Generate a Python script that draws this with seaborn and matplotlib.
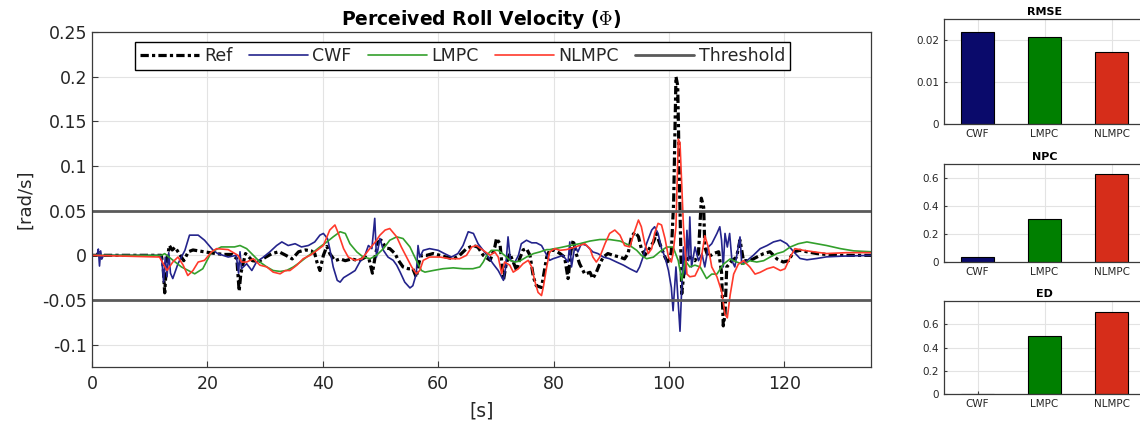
import matplotlib
matplotlib.use("Agg")
import matplotlib.pyplot as plt
import numpy as np
import pandas as pd
import seaborn as sns

# ---------------- data ----------------
ref_t = [0, 0.8, 1.2, 1.6, 2.0, 12.0, 12.3, 12.6, 12.9, 13.4, 13.9, 14.4, 15.1, 15.9, 16.7, 17.5,
         18.4, 19.4, 20.4, 21.4, 22.9, 24.3, 25.1, 25.5, 25.8, 26.6, 27.8, 28.9, 30.1, 31.2, 32.4,
         33.6, 34.7, 35.8, 37.0, 38.0, 38.6, 39.0, 39.5, 40.1, 40.7, 41.2, 42.1, 43.0, 43.9, 45.0,
         46.2, 47.4, 48.0, 48.6, 49.1, 49.6, 50.1, 51.0, 51.6, 52.5, 53.1, 53.9, 54.8, 55.6, 56.2,
         56.7, 57.1, 58.0, 59.1, 60.3, 61.4, 62.6, 63.7, 64.9, 66.1, 66.9, 67.8, 69.0, 69.8, 70.1,
         70.7, 71.3, 71.8, 72.4, 73.0, 73.6, 74.1, 74.7, 75.3, 75.9, 76.5, 77.0, 77.9, 78.2, 78.8,
         79.3, 80.2, 81.1, 81.9, 82.5, 83.0, 83.4, 83.9, 84.5, 85.4, 86.3, 86.8, 87.4, 88.0, 88.6,
         89.4, 90.3, 91.5, 92.3, 92.9, 93.5, 94.1, 94.7, 95.2, 95.8, 96.4, 97.3, 97.8, 98.4, 99.3,
         99.9, 100.4, 100.8, 101.2, 101.5, 101.9, 102.2, 102.8, 103.6, 104.5, 105.1, 105.6, 106.0,
         106.2, 106.8, 107.7, 108.6, 109.1, 109.4, 109.7, 110.0, 110.9, 111.7, 112.3, 112.9, 114.0,
         115.2, 116.4, 117.5, 118.7, 119.8, 120.7, 121.6, 122.7, 123.9, 125.6, 127.3, 129.7, 132.5, 135.0]
ref_v = [0, 0.0, 0.003, -0.003, 0.0, 0.0, -0.01, -0.042, -0.01, 0.011, 0.006, 0.009, 0.002, -0.006,
         0.004, 0.006, 0.005, 0.004, 0.003, 0.002, 0.001, 0.001, -0.004, -0.040, -0.02, 0.002, -0.006,
         -0.007, -0.002, 0.002, 0.004, 0.0, -0.004, 0.004, 0.006, 0.005, 0.002, -0.008, -0.017, 0.0,
         0.010, 0.002, -0.006, -0.004, -0.006, -0.004, -0.006, -0.002, -0.004, -0.020, 0.0, 0.015,
         0.017, 0.008, 0.0075, 0.002, -0.0056, -0.013, -0.015, -0.015, -0.0245, -0.0075, 0.0, 0.0,
         0.002, 0.0, -0.002, -0.004, 0.0, 0.0075, 0.011, 0.009, 0.0, -0.0056, 0.009, 0.019, 0.013,
         -0.028, -0.009, 0.002, -0.0075, -0.017, -0.004, 0.006, 0.0075, 0.0, -0.0245, -0.034, -0.036,
         -0.0245, -0.002, 0.0056, 0.0056, 0.002, -0.002, -0.026, 0.005, 0.017, 0.002, -0.0094, -0.021,
         -0.019, -0.026, -0.019, -0.0094, -0.002, 0.002, 0.0, -0.002, -0.004, 0.002, 0.021, 0.026,
         0.021, 0.0075, 0.0, 0.0056, 0.015, 0.0245, 0.013, -0.002, -0.0094, 0.0038, 0.06, 0.2, 0.19,
         0.05, -0.043, -0.006, -0.002, -0.006, 0.002, 0.064, 0.054, 0.009, -0.002, 0.002, 0.004,
         -0.019, -0.079, -0.066, -0.013, -0.006, -0.002, 0.017, -0.006, -0.006, -0.002, 0.002, 0.004,
         -0.004, -0.0075, -0.006, 0.004, 0.0056, 0.004, 0.002, 0.001, 0.0, 0.0, 0.0]

cwf_t = [0, 0.9, 1.1, 1.3, 1.5, 1.7, 2.0, 11.8, 12.1, 12.4, 12.7, 13.0, 13.3, 13.6, 14.0, 14.9,
         16.1, 16.9, 18.4, 19.5, 21.0, 21.8, 23.6, 25.0, 25.4, 25.65, 25.9, 26.8, 27.7, 28.5, 29.7,
         30.8, 32.0, 32.9, 34.0, 35.2, 36.3, 37.5, 38.6, 39.5, 40.1, 40.8, 41.2, 41.8, 42.5, 43.0,
         43.6, 44.7, 45.6, 46.4, 47.3, 47.9, 48.5, 49.0, 49.3, 49.9, 50.5, 51.3, 52.2, 52.8, 53.4,
         54.2, 55.1, 55.6, 56.2, 56.5, 56.8, 57.4, 58.5, 60.0, 61.1, 62.3, 63.4, 64.3, 65.2, 66.1,
         66.9, 67.8, 68.7, 69.5, 70.4, 71.3, 71.7, 72.1, 72.5, 73.3, 73.9, 74.4, 75.3, 76.2, 77.0,
         77.9, 78.5, 79.3, 79.9, 80.8, 81.6, 82.5, 82.8, 83.1, 83.7, 84.2, 84.8, 85.7, 86.8, 87.7,
         88.6, 89.7, 90.9, 92.1, 93.2, 94.4, 94.9, 95.5, 96.1, 97.0, 97.5, 98.1, 98.7, 99.3, 99.9,
         100.4, 100.7, 101.2, 101.5, 101.9, 102.2, 102.5, 102.8, 103.1, 103.4, 103.6, 103.9, 104.5,
         105.1, 105.7, 106.2, 106.8, 107.4, 108.3, 108.8, 109.1, 109.4, 109.7, 110.1, 110.5, 110.9,
         111.4, 112.3, 112.6, 113.5, 114.6, 115.8, 117.0, 118.1, 119.3, 120.4, 121.6, 122.7, 123.9,
         125.6, 127.3, 129.7, 135.0]
cwf_v = [0, 0.0, 0.007, -0.012, 0.005, -0.004, 0.0, 0.0, -0.004, -0.03, -0.002, -0.024, 0.003,
         -0.02, -0.026, -0.0094, 0.0056, 0.0226, 0.0226, 0.0169, 0.0056, 0.0019, -0.0019, 0.0,
         -0.02, 0.004, -0.015, -0.0094, -0.017, -0.0075, -0.002, 0.0038, 0.011, 0.015, 0.011, 0.013,
         0.0094, 0.011, 0.015, 0.0226, 0.0245, 0.0188, 0.0075, -0.013, -0.028, -0.030, -0.025,
         -0.0207, -0.017, -0.0075, 0.0, 0.011, 0.0075, 0.0414, -0.002, 0.0188, 0.0056, -0.002,
         -0.0056, -0.011, -0.0188, -0.030, -0.0365, -0.034, -0.0207, 0.011, -0.002, 0.0056, 0.0075,
         0.0056, 0.0019, -0.0019, 0.0019, 0.011, 0.0264, 0.0245, 0.013, 0.0056, -0.0019, -0.0094,
         -0.017, -0.028, -0.013, 0.0207, -0.0056, -0.0075, 0.0, 0.013, 0.0169, 0.014, 0.014, 0.011,
         0.0038, -0.0056, -0.0038, -0.0019, 0.0, -0.0075, 0.015, -0.013, 0.011, 0.0038, 0.013, 0.011,
         0.0038, 0.0019, -0.0019, -0.0038, -0.0075, -0.011, -0.015, -0.0188, -0.013, -0.0019, 0.013,
         0.0283, 0.032, 0.0245, 0.0075, -0.0019, -0.017, -0.036, -0.062, -0.013, -0.044, -0.085,
         -0.036, 0.0093, -0.021, 0.028, -0.006, 0.043, -0.013, 0.0093, -0.006, 0.002, -0.013, 0.0093,
         0.013, 0.0245, 0.032, 0.017, -0.013, 0.0245, 0.0093, 0.0245, -0.006, -0.013, 0.0206, -0.010,
         -0.006, 0.0, 0.0075, 0.011, 0.015, 0.017, 0.013, 0.004, -0.0035, -0.005, -0.0035, -0.0017,
         -0.001, 0.0]

lmpc_t = [0, 12.0, 12.6, 13.7, 15.5, 17.8, 19.2, 20.7, 22.4, 24.7, 25.65, 26.8, 27.96, 29.1, 30.3,
          31.4, 32.6, 33.7, 34.9, 36.1, 37.2, 38.4, 39.5, 40.7, 41.8, 43.0, 43.9, 44.7, 45.9, 47.0,
          48.2, 49.3, 50.5, 51.6, 52.8, 53.9, 55.1, 56.2, 57.1, 57.7, 59.1, 60.8, 62.6, 64.3, 66.0,
          67.2, 67.8, 68.4, 69.2, 70.4, 71.5, 72.4, 73.3, 74.1, 75.3, 76.5, 77.6, 78.8, 79.3, 81.1,
          82.8, 84.5, 86.3, 88.0, 89.7, 91.5, 93.2, 94.4, 95.2, 96.1, 97.3, 98.4, 99.6, 100.7, 101.6,
          102.2, 102.8, 103.6, 104.5, 105.4, 106.5, 107.4, 108.3, 109.4, 110.6, 111.7, 112.9, 114.0,
          115.2, 116.4, 117.5, 118.7, 119.8, 121.0, 122.4, 123.9, 125.6, 127.3, 129.7, 132.0, 135.0]
lmpc_v = [0, 0.0, 0.0019, -0.0038, -0.013, -0.0207, -0.015, 0.0038, 0.0094, 0.0094, 0.011, 0.0075,
          0.0, -0.0075, -0.013, -0.017, -0.018, -0.017, -0.013, -0.0075, -0.0019, 0.0038, 0.0094,
          0.015, 0.0207, 0.0264, 0.0245, 0.013, 0.0038, -0.0019, -0.0038, 0.0, 0.0075, 0.0169, 0.0207,
          0.0188, 0.0094, -0.0056, -0.017, -0.0188, -0.017, -0.015, -0.014, -0.015, -0.015, -0.013,
          -0.0075, 0.0, 0.0056, 0.0056, 0.0, -0.0056, -0.0075, -0.0065, -0.0019, 0.0019, 0.0038,
          0.0064, 0.0064, 0.0086, 0.011, 0.013, 0.016, 0.0177, 0.0177, 0.016, 0.011, 0.0056, 0.0,
          -0.0038, -0.002, 0.004, 0.0093, 0.0093, -0.006, -0.028, -0.006, -0.013, -0.011, -0.013,
          -0.026, -0.021, -0.021, -0.010, -0.004, -0.0075, -0.010, -0.006, -0.0075, -0.006, -0.002,
          0.002, 0.004, 0.0093, 0.013, 0.015, 0.013, 0.011, 0.0075, 0.005, 0.004]

nlmpc_t = [0, 11.7, 13.0, 14.0, 14.9, 15.8, 16.6, 17.5, 18.4, 19.5, 20.7, 21.6, 23.6, 25.3, 25.9,
           26.8, 27.96, 29.1, 30.3, 31.4, 32.6, 33.5, 34.3, 35.5, 36.6, 37.8, 39.0, 40.1, 41.2, 42.1,
           42.7, 43.6, 44.4, 45.6, 46.8, 47.9, 49.1, 49.9, 50.8, 51.6, 52.8, 53.6, 54.5, 55.4, 56.2,
           56.8, 57.4, 58.5, 60.3, 62.0, 63.7, 64.9, 65.8, 66.6, 67.8, 69.0, 69.8, 70.4, 71.0, 71.5,
           72.4, 73.0, 73.9, 74.7, 75.6, 76.2, 76.7, 77.3, 77.9, 78.2, 78.8, 79.3, 80.2, 81.1, 82.2,
           83.4, 84.5, 85.4, 86.3, 86.8, 87.4, 88.0, 88.9, 89.7, 90.6, 91.5, 92.3, 93.2, 94.1, 94.7,
           95.2, 95.8, 96.4, 97.0, 97.5, 98.1, 98.7, 99.3, 99.9, 100.4, 100.7, 101.2, 101.6, 101.9,
           102.5, 103.1, 103.6, 104.5, 105.4, 106.2, 106.8, 107.4, 108.3, 109.1, 109.7, 110.1, 110.6,
           111.2, 112.0, 112.9, 114.0, 114.9, 115.8, 117.0, 118.1, 119.3, 120.1, 121.0, 121.8, 123.3,
           125.0, 127.3, 130.8, 135.0]
nlmpc_v = [0, -0.0019, -0.017, -0.0075, -0.0019, -0.011, -0.0226, -0.017, -0.0075, -0.0056, 0.0038,
           0.0075, 0.0064, 0.0, -0.0075, -0.0075, -0.0038, -0.011, -0.013, -0.0188, -0.0207, -0.017,
           -0.017, -0.011, -0.0038, 0.0, 0.0056, 0.011, 0.0283, 0.034, 0.0245, 0.0075, -0.0019,
           -0.0056, -0.0038, 0.0056, 0.015, 0.0226, 0.0283, 0.030, 0.0207, 0.0094, -0.0019, -0.013,
           -0.0207, -0.017, -0.0056, -0.0019, -0.0019, -0.0038, -0.0038, 0.0, 0.0094, 0.011, 0.0056,
           0.0, 0.0038, -0.0019, -0.0207, -0.0075, -0.011, -0.0188, -0.015, -0.0094, -0.0056, -0.013,
           -0.028, -0.0415, -0.045, -0.036, -0.013, 0.0038, 0.0075, 0.0056, 0.0064, 0.0086, 0.011,
           0.013, 0.0075, -0.0019, -0.0075, -0.0019, 0.013, 0.0245, 0.0283, 0.0226, 0.011, 0.0094,
           0.0283, 0.0395, 0.032, 0.013, 0.0019, 0.0075, 0.0245, 0.0358, 0.034, 0.0188, -0.0019,
           -0.0075, 0.002, 0.032, 0.130, 0.126, 0.032, -0.021, -0.024, -0.023, -0.011, 0.022, 0.0093,
           -0.013, -0.024, -0.040, -0.066, -0.070, -0.044, -0.021, -0.010, -0.006, -0.013, -0.021,
           -0.019, -0.015, -0.013, -0.017, -0.015, -0.002, 0.0075, 0.0056, 0.004, 0.002, 0.003, 0.003]

threshold = 0.05

methods = ["CWF", "LMPC", "NLMPC"]
rmse = [0.0218, 0.0207, 0.0171]
npc = [0.036, 0.307, 0.626]
ed = [0.0, 0.50, 0.703]

x_ticks = [0, 20, 40, 60, 80, 100, 120]
x_tick_labels = ["0", "20", "40", "60", "80", "100", "120"]
y_ticks = [-0.1, -0.05, 0, 0.05, 0.1, 0.15, 0.2, 0.25]
y_tick_labels = ["-0.1", "-0.05", "0", "0.05", "0.1", "0.15", "0.2", "0.25"]
rmse_ticks = [0, 0.01, 0.02]
rmse_tick_labels = ["0", "0.01", "0.02"]
npc_ticks = [0, 0.2, 0.4, 0.6]
npc_tick_labels = ["0", "0.2", "0.4", "0.6"]
ed_ticks = [0, 0.2, 0.4, 0.6]
ed_tick_labels = ["0", "0.2", "0.4", "0.6"]

# ---------------- style ----------------
sns.set_theme(style="white")
plt.rcParams["font.family"] = ["DejaVu Sans"]
plt.rcParams["mathtext.fontset"] = "cm"

W, H = 1140, 426
fig = plt.figure(figsize=(W / 100, H / 100), dpi=100)
fig.patch.set_facecolor("white")

TXT = "#262626"
FRAME = "#3a3a3a"
GRID = "#e3e3e3"


def box(ax, ls=10):
    for s in ax.spines.values():
        s.set_visible(True)
        s.set_color(FRAME)
        s.set_linewidth(0.9)
    ax.tick_params(direction="in", length=4, width=0.8, colors=FRAME, labelcolor=TXT,
                   labelsize=ls, top=False, right=False, left=True, bottom=True)
    ax.grid(True, color=GRID, linewidth=0.8)
    ax.set_axisbelow(True)


# ---------------- main axes ----------------
ax = fig.add_axes([92 / W, (H - 367) / H, 779 / W, 335 / H])

series = [
    ("Ref", ref_t, ref_v, "black", 2.3),
    ("CWF", cwf_t, cwf_v, "#24248c", 1.2),
    ("LMPC", lmpc_t, lmpc_v, "#33a02c", 1.2),
    ("NLMPC", nlmpc_t, nlmpc_v, "#ff3a2c", 1.2),
]
for name, tt, vv, col, lw in series:
    df = pd.DataFrame({"t": tt, "v": vv})
    sns.lineplot(data=df, x="t", y="v", ax=ax, color=col, linewidth=lw, sort=False,
                 estimator=None, legend=False)
    ln = ax.lines[-1]
    ln.set_label(name)
    if name == "Ref":
        ln.set_dashes((2.6, 1.0, 1.0, 1.0))

ax.axhline(threshold, color="#5a5a5a", linewidth=2.0, label="Threshold")
ax.axhline(-threshold, color="#5a5a5a", linewidth=2.0)

ax.set_xlim(0, 135)
ax.set_ylim(-0.125, 0.25)
ax.set_xticks(x_ticks)
ax.set_xticklabels(x_tick_labels)
ax.set_yticks(y_ticks)
ax.set_yticklabels(y_tick_labels)
box(ax, ls=12.5)
ax.tick_params(axis="x", pad=6)
ax.set_xlabel("[s]", fontsize=13.5, color=TXT, labelpad=6)
ax.set_ylabel("[rad/s]", fontsize=13, color=TXT, labelpad=6)
ax.set_title(r"Perceived Roll Velocity ($\Phi$)", fontsize=13.5, fontweight="bold",
             color="black", pad=5)

leg = ax.legend(loc="upper center", bbox_to_anchor=(0.476, 0.97), ncol=5, fontsize=12.5,
                frameon=True, fancybox=False, edgecolor="black", framealpha=1,
                handlelength=3.4, handletextpad=0.25, columnspacing=0.95, borderpad=0.3,
                borderaxespad=0.0)
leg.get_frame().set_linewidth(1.0)
for txt in leg.get_texts():
    txt.set_color(TXT)

# ---------------- bar panels ----------------
bar_colors = {"CWF": "#0a0a6b", "LMPC": "#007f00", "NLMPC": "#d62d1a"}
panels = [
    ("RMSE", rmse, 19, 124, (0, 0.025), rmse_ticks, rmse_tick_labels),
    ("NPC", npc, 164, 262, (0, 0.7), npc_ticks, npc_tick_labels),
    ("ED", ed, 301, 394, (0, 0.8), ed_ticks, ed_tick_labels),
]
for title, vals, top, bot, ylim, yt, ytl in panels:
    bax = fig.add_axes([944 / W, (H - bot) / H, 201 / W, (bot - top) / H])
    bdf = pd.DataFrame({"method": methods, "value": vals})
    sns.barplot(data=bdf, x="method", y="value", hue="method", palette=bar_colors,
                ax=bax, width=0.5, edgecolor="black", linewidth=0.8, legend=False,
                saturation=1)
    bax.set_xlim(-0.5, 2.5)
    bax.set_ylim(*ylim)
    bax.set_yticks(yt)
    bax.set_yticklabels(ytl)
    box(bax, ls=7.5)
    bax.tick_params(length=2.5)
    bax.set_xlabel("")
    bax.set_ylabel("")
    bax.set_title(title, fontsize=8, fontweight="bold", color="black", pad=3)

fig.savefig("out.png", dpi=100, facecolor="white")
